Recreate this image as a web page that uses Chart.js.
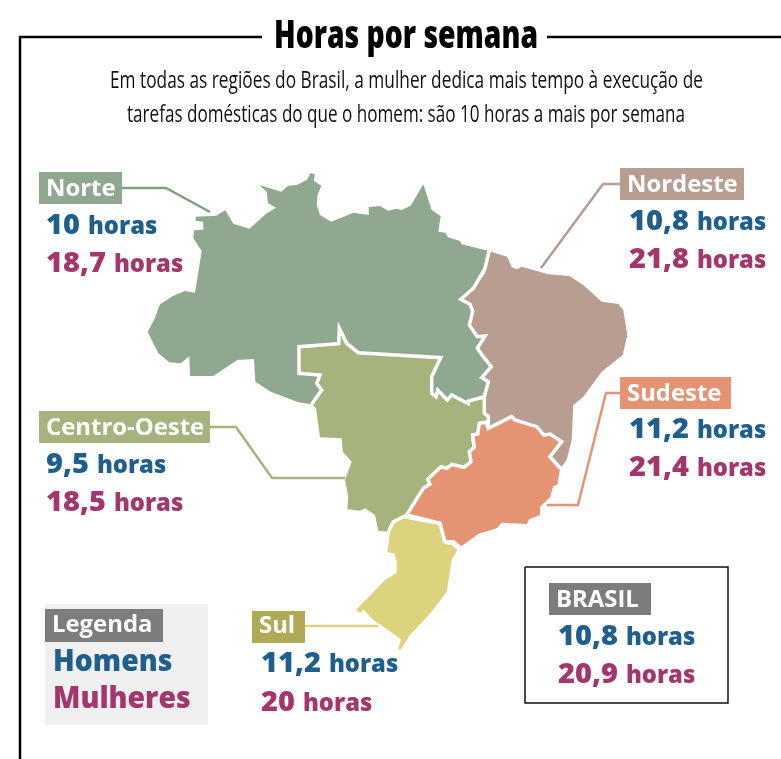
<!DOCTYPE html>
<html lang="pt-BR">
<head>
<meta charset="utf-8">
<title>Horas por semana</title>
<script src="https://cdn.jsdelivr.net/npm/chart.js@4"></script>
<style>
  html, body { margin: 0; padding: 0; background: #fff; overflow: hidden; }
  canvas { display: block; }
</style>
</head>
<body>
<canvas id="mapa" width="781" height="759"></canvas>
<script>
// Dados do gráfico
const regioes = ['Norte', 'Nordeste', 'Sudeste', 'Centro-Oeste', 'Sul'];
const horasHomens = [10, 10.8, 11.2, 9.5, 11.2];
const horasMulheres = [18.7, 21.8, 21.4, 18.5, 20];
const horasBrasil = [10.8, 20.9];
const titulo = 'Horas por semana';
const subtitulo = [
    'Em todas as regiões do Brasil, a mulher dedica mais tempo à execução de',
    'tarefas domésticas do que o homem: são 10 horas a mais por semana'
];

// Contornos das regiões
const contornoNorte = [[195.7,216.7],[216,215.7],[225.3,210.3],[233.3,223.7],[249.3,228.7],[266.7,213.3],[276,207.7],[268,203.3],[266.7,191.7],[259.3,185],[281.3,191.7],[288,185.7],[296.7,185],[306.7,180],[310.7,173],[314.7,174.3],[314,181],[321.3,185.7],[317.3,195.7],[316.7,205],[320,215],[331.3,221.7],[353.3,212.7],[368.7,215],[368.7,207],[380,206],[388.3,210.7],[396.7,208.7],[401.7,210],[410.7,205.7],[423.3,184.3],[431.7,210],[440.7,216],[438.3,231.7],[445.3,232.7],[448,237.3],[460,241],[461.7,244.3],[489,251],[485,268.3],[473.3,288.3],[460.7,299.3],[470,304.3],[472.7,311.7],[469.3,325],[477.3,336.7],[485,336],[477.3,348.3],[483.3,356.7],[491.3,366.7],[481.7,377.7],[488.3,381.7],[484.3,396.7],[468.3,401],[468.3,403.7],[451.7,395],[447.3,400],[437.7,390],[436,396.7],[431.7,393.3],[431.7,376.7],[440.7,357.7],[358.3,352.7],[346.7,343.3],[339.3,328.3],[338.7,343.7],[299,346.7],[299,373.3],[320,375],[316.7,383.3],[321.7,390],[311.7,404.3],[298.3,402.3],[270.7,391.7],[255.3,381.7],[254,359],[237.3,360],[213.3,376],[190,376],[189.3,356.3],[180.7,363.3],[169.3,362.3],[158.3,353.3],[147.7,331.7],[154,320],[160,304.3],[173.3,295.7],[185,291],[195,292.7],[201.7,251],[193.3,238.3],[194,230.3],[203.3,229.7],[203.3,221.7],[195.7,221],[195.7,216.7]];
const contornoNordeste = [[490.7,251.7],[507.3,256.7],[511.7,267.3],[516.7,269.3],[521.7,266.7],[548.3,274.3],[569.3,276],[583.3,285],[601.7,301.7],[618.3,304],[623.3,310],[627.3,335],[622.7,355],[601.7,371.7],[583.3,396.7],[573.3,405],[571.7,440],[566.7,460],[561.7,466.7],[551.7,456.7],[561.7,441.7],[550,435],[543.3,436.7],[538.3,428.3],[515,421],[510.7,415],[486.7,428.3],[490,415],[484,411.7],[484,396.7],[487.7,380],[481.7,376],[491.7,366.7],[484,356.7],[478.3,347.3],[485,336.7],[476.7,336.7],[470,325],[473.3,311.7],[471,303.3],[461.7,299.3],[473.3,290],[485,273.3],[490.7,251.7]];
const contornoCentroOeste = [[300,348.3],[337.3,345],[340,328.3],[346.7,343.3],[358.3,353.3],[440,357.7],[431.7,376.7],[431.7,391.7],[435,396.7],[437.3,390],[448.3,400.7],[451.7,395],[468.3,403.3],[469,400],[484.3,399.3],[484.3,413.3],[488.3,416.7],[486.7,421.7],[478.3,423.3],[476.7,434.3],[471,436.7],[472.7,450],[468.3,453.3],[470,461.7],[463.3,466],[451.7,464],[446.7,467.7],[441.7,466.7],[426,480],[428.3,485],[421.7,489.3],[405,515],[393.3,521.7],[388.3,531.7],[378.3,530.7],[375,515],[365,508.3],[360,510.7],[347.3,509.3],[348.3,496.7],[345,480],[351.7,461.7],[342.7,451.7],[341.7,438.3],[320,437.3],[316,408.3],[312.7,405],[321.7,390],[316.7,383.3],[319.3,375],[300,373.3],[300,348.3]];
const contornoSudeste = [[406.7,515],[423.3,488.3],[430,484],[427.7,479.3],[441,466.7],[446.7,468.3],[451.7,464.3],[464,467.3],[471,461.7],[469.3,451.7],[474.3,447.3],[472.7,435],[477.7,434],[479.3,423.3],[486,422.3],[488.3,428.3],[511.7,416.7],[515,420],[536.7,426.7],[544,435],[550,434],[561.7,441.7],[550,456.7],[560,468.3],[557.3,485],[553.3,486],[550,497.3],[540,506.7],[540,515],[529.3,519.3],[526.7,524],[501.7,522.7],[496.7,528.3],[478.3,534],[460,547.3],[453.3,541.7],[445,541.7],[440,523.3],[406.7,515]];
const contornoSul = [[403.3,518.3],[439.3,525],[445,544],[451.7,545],[457.3,550],[451.7,560],[446.7,591.7],[431.7,611.7],[410,635],[400,650.7],[398.3,648.3],[401,639.3],[383.3,626.7],[373.3,620],[364,610],[360,612.7],[356,610],[385,580],[396,573.3],[396.7,561.7],[394.3,553.3],[387.3,552.3],[390.7,528.3],[395,523.3],[403.3,518.3]];

// Fronteiras internas (trechos dos contornos)
const fronteiraNorte = contornoNorte.slice(38, 72);
const fronteiraSudeste = contornoSudeste.slice(0, 24);
const fronteiraSudesteSul = contornoSudeste.slice(-5);
const fronteiraCentroNordeste = [[484.3,396.7],[484.3,413.3],[488.3,416.7],[488.3,428.3]];
const fronteiraCentroSul = [[406.7,515],[393.3,521.7],[388.3,531.7]];

// Linhas de chamada e molduras
const linhaNorte = [[122,188],[166,188],[210,212]];
const linhaNordeste = [[620,184],[603,184],[541,268]];
const linhaSudeste = [[620,393],[606,393],[578,505],[547,505]];
const linhaCentroOeste = [[210,427],[236,427],[272,478],[345,478]];
const linhaSul = [[305,626],[378,626]];
const molduraEsq = [[20,759],[20,37],[262,37]];
const molduraDir = [[547,37],[781,37]];
const caixaBrasil = [[525,567],[728,567],[728,703],[525,703],[525,567]];

// Cores
const corHomens = '#1f5f8e';
const corMulheres = '#a3366c';
const corNorte = '#90a88f';
const corNordeste = '#b79e91';
const corSudeste = '#e59473';
const corCentroOeste = '#a6b37d';
const corSul = '#dbd37e';
const corCinza = '#7c7c7c';

// Posição dos blocos de texto: caixa do rótulo [x0, y0, x1, y1], texto dos valores [x, y1, y2]
const layout = {
    'Norte': { caixa: [39, 172, 122, 204], cor: corNorte, valores: [46, 234, 272] },
    'Nordeste': { caixa: [620, 168, 744, 200], cor: corNordeste, valores: [629, 230, 268] },
    'Sudeste': { caixa: [620, 377, 731, 409], cor: corSudeste, valores: [629, 438, 476] },
    'Centro-Oeste': { caixa: [39, 411, 210, 443], cor: corCentroOeste, valores: [46, 473, 511] },
    'Sul': { caixa: [252, 611, 305, 643], cor: '#aeaa55', valores: [261, 672, 711], base: 10 }
};

const paraPontos = pts => pts.map(p => ({ x: p[0], y: p[1] }));

function regiao(pts, cor) {
    return {
        data: paraPontos(pts),
        showLine: true,
        tension: 0,
        fill: 'shape',
        backgroundColor: cor,
        borderColor: cor,
        borderWidth: 0,
        pointRadius: 0
    };
}

function linha(pts, cor, largura) {
    return {
        data: paraPontos(pts),
        showLine: true,
        tension: 0,
        fill: false,
        borderColor: cor,
        borderWidth: largura,
        borderJoinStyle: 'miter',
        pointRadius: 0
    };
}

const formataHoras = v => v.toLocaleString('pt-BR');

// Textos e caixas desenhados sobre o mapa
const textosPlugin = {
    id: 'textos',
    afterDatasetsDraw(chart) {
        const ctx = chart.ctx;
        const px = v => chart.scales.x.getPixelForValue(v);
        const py = v => chart.scales.y.getPixelForValue(v);

        function texto(str, x, y, fonte, cor, escala) {
            ctx.font = fonte;
            ctx.fillStyle = cor;
            ctx.textAlign = 'left';
            ctx.textBaseline = 'alphabetic';
            const w = ctx.measureText(str).width;
            ctx.fillText(str, px(x), py(y), w * escala);
            return w * escala;
        }

        function textoLargura(str, xc, y, fonte, cor, largura) {
            ctx.font = fonte;
            ctx.fillStyle = cor;
            ctx.textAlign = 'center';
            ctx.textBaseline = 'alphabetic';
            ctx.fillText(str, px(xc), py(y), largura);
        }

        function caixa(c, cor) {
            ctx.fillStyle = cor;
            ctx.fillRect(px(c[0]), py(c[1]), px(c[2]) - px(c[0]), py(c[3]) - py(c[1]));
        }

        function rotulo(str, c, cor, base) {
            caixa(c, cor);
            texto(str, c[0] + 7, c[3] - (base || 8), '700 24px "Open Sans"', '#ffffff', 0.995);
        }

        function valor(v, x, y, cor) {
            const w = texto(formataHoras(v), x, y, '800 29px "Open Sans"', cor, 0.999);
            texto('horas', x + w + 8, y, '800 24px "Open Sans"', cor, 0.99);
        }

        ctx.save();

        // Título e subtítulo
        textoLargura(titulo, 406, 48, '800 39px "Open Sans"', '#000000', 264);
        textoLargura(subtitulo[0], 406.5, 88, '400 24.5px "Open Sans"', '#111111', 593);
        textoLargura(subtitulo[1], 406, 122, '400 24.5px "Open Sans"', '#111111', 558);

        // Regiões
        regioes.forEach((nome, i) => {
            const l = layout[nome];
            rotulo(nome, l.caixa, l.cor, l.base);
            valor(horasHomens[i], l.valores[0], l.valores[1], corHomens);
            valor(horasMulheres[i], l.valores[0], l.valores[2], corMulheres);
        });

        // Brasil
        rotulo('BRASIL', [549, 583, 651, 615], corCinza);
        valor(horasBrasil[0], 558, 645, corHomens);
        valor(horasBrasil[1], 558, 683, corMulheres);

        // Legenda
        caixa([45, 604, 208, 725], '#f0f0f0');
        rotulo('Legenda', [45, 609, 163, 642], corCinza, 10);
        texto('Homens', 53, 671, '800 30px "Open Sans"', corHomens, 0.945);
        texto('Mulheres', 53, 708, '800 30px "Open Sans"', corMulheres, 0.945);

        ctx.restore();
    }
};

document.addEventListener('DOMContentLoaded', function() {
    const ctx = document.getElementById('mapa').getContext('2d');
    new Chart(ctx, {
        type: 'scatter',
        data: {
            datasets: [
                linha(fronteiraNorte, '#ffffff', 3.5),
                linha(fronteiraSudeste, '#ffffff', 3.5),
                linha(fronteiraSudesteSul, '#ffffff', 3.5),
                linha(fronteiraCentroNordeste, '#ffffff', 3.5),
                linha(fronteiraCentroSul, '#ffffff', 3.5),
                regiao(contornoSul, corSul),
                regiao(contornoSudeste, corSudeste),
                regiao(contornoCentroOeste, corCentroOeste),
                regiao(contornoNordeste, corNordeste),
                regiao(contornoNorte, corNorte),
                linha(linhaNorte, '#7f9f7e', 2.5),
                linha(linhaNordeste, corNordeste, 2.5),
                linha(linhaSudeste, corSudeste, 2.5),
                linha(linhaCentroOeste, corCentroOeste, 2.5),
                linha(linhaSul, corSul, 2.5),
                linha(molduraEsq, '#000000', 2.5),
                linha(molduraDir, '#000000', 2.5),
                linha(caixaBrasil, '#111111', 1.5)
            ]
        },
        options: {
            responsive: false,
            animation: false,
            layout: { padding: 0 },
            scales: {
                x: { type: 'linear', min: 0, max: 781, display: false },
                y: { type: 'linear', min: 0, max: 759, reverse: true, display: false }
            },
            plugins: {
                legend: { display: false },
                title: { display: false },
                tooltip: { enabled: false }
            }
        },
        plugins: [textosPlugin]
    });
});
</script>
</body>
</html>
